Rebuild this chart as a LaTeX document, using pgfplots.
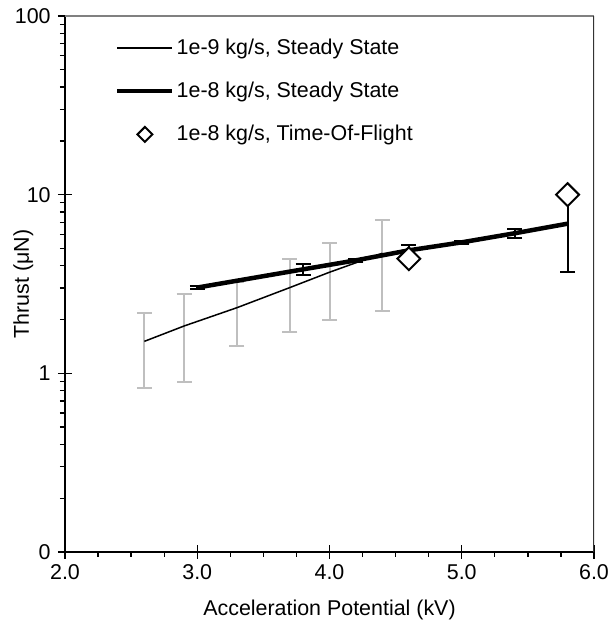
\documentclass[border=0pt]{standalone}
\usepackage{pgfplots}
\pgfplotsset{compat=1.18}
\usepackage{fontspec}
\setmainfont{Liberation Sans}

\pgfplotsset{
  lineleg/.style={legend image code/.code={\draw[##1] (0bp,0bp) -- (55bp,0bp);}},
  diamondleg/.style={legend image code/.code={\draw[##1, mark size=5.3bp] plot coordinates {(27.5bp,0bp)};}},
}

\begin{document}
\fontsize{21.5}{25}\selectfont
\begin{tikzpicture}
\useasboundingbox (0,0) rectangle (610bp,630bp);
\begin{axis}[
  at={(65bp,78bp)}, anchor=south west,
  scale only axis, width=529bp, height=536bp,
  ymode=log, xmin=2, xmax=6, ymin=0.1, ymax=100,
  xtick={2,3,4,5,6}, minor x tick num=3,
  ytick={0.1,1,10,100}, yticklabels={0,1,10,100},
  /pgf/number format/assume math mode=true,
  x tick label style={/pgf/number format/.cd, fixed, fixed zerofill, precision=1, /tikz/.cd, yshift=2bp},
  axis x line*=bottom, axis y line*=left,
  axis line style={-, line width=1.3bp, black},
  tick align=center,
  major tick length=14bp, minor tick length=5bp,
  tick style={line width=1.3bp, black},
  minor x tick style={yshift=-2.5bp},
  minor y tick style={xshift=-2.5bp},
  xlabel={Acceleration Potential (kV)},
  xlabel style={yshift=-6bp},
  ylabel={Thrust (μN)},
  ylabel style={at={(axis description cs:-0.079,0.5)}, anchor=center},
  lineleg,
  legend cell align=left,
  legend style={draw=none, fill=none, at={(axis description cs:0.0945,0.962)}, anchor=north west,
    inner sep=0pt, row sep=20.5bp, nodes={inner sep=2bp}},
]
\draw[black!50, line width=1.3bp] (rel axis cs:0,1) -- (rel axis cs:1,1);
\draw[black!80, line width=1.3bp] (rel axis cs:1,1) -- (rel axis cs:1,0);

% 1e-9 kg/s error bars (grey)
\addplot[draw=none, mark=none, forget plot,
  error bars/.cd, y dir=both, y explicit,
  error bar style={draw=black!25, line width=2bp},
  error mark options={rotate=90, mark size=7.5bp, draw=black!25, line width=2bp}]
  table[x=x, y=y, y error=e] {
x y e
2.6 1.51 0.68
2.9 1.84 0.95
3.3 2.33 0.90
3.7 3.02 1.32
4.0 3.68 1.68
4.4 4.70 2.47
};

\addplot[black, line width=1.5bp, mark=none] table[x=x, y=y] {
x y
2.6 1.51
2.9 1.84
3.3 2.33
3.7 3.02
4.0 3.68
4.4 4.70
};
\addlegendentry{1e-9 kg/s, Steady State}

\addplot[black, line width=4.5bp, line join=round, mark=none,
  error bars/.cd, y dir=both, y explicit,
  error bar style={draw=black, line width=2bp},
  error mark options={rotate=90, mark size=7.5bp, draw=black, line width=2bp}]
  table[x=x, y=y, y error=e] {
x y e
3.0 3.02 0.05
3.8 3.82 0.29
4.2 4.29 0.08
4.6 4.88 0.38
5.0 5.41 0.10
5.4 6.08 0.33
5.8 6.88 3.21
};
\addlegendentry{1e-8 kg/s, Steady State}

\addplot[only marks, mark=square*, mark size=8.1bp,
  mark options={rotate=45, fill=white, draw=black, line width=2bp},
  diamondleg]
  table[x=x, y=y] {
x y
4.6 4.38
5.8 10.0
};
\addlegendentry{1e-8 kg/s, Time-Of-Flight}
\end{axis}
\end{tikzpicture}
\end{document}
